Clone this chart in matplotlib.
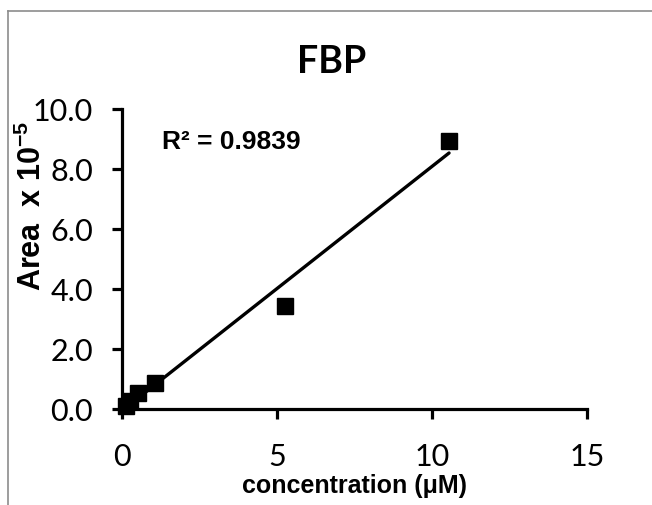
import numpy as np
import matplotlib
matplotlib.use("Agg")
import matplotlib.pyplot as plt
from matplotlib.lines import Line2D

plt.rcParams['mathtext.fontset'] = 'custom'
plt.rcParams['mathtext.bf'] = 'Liberation Sans:bold'
plt.rcParams['mathtext.rm'] = 'Liberation Sans'

# Data
conc = [0.13, 0.26, 0.53, 1.06, 5.27, 10.55]
area = [0.10, 0.28, 0.55, 0.88, 3.42, 8.92]
x_ticks = [0, 5, 10, 15]
y_ticks = [0, 2, 4, 6, 8, 10]
title = "FBP"
r2_text = "R² = 0.9839"

W, H = 652, 506
fig = plt.figure(figsize=(W / 100, H / 100), dpi=100)
fig.patch.set_facecolor('white')

# outer chart border
fig.add_artist(Line2D([8 / W, 8 / W], [0, 1 - 12 / H], color='#8c8c8c', lw=1.2))
fig.add_artist(Line2D([8 / W, 1], [1 - 12 / H, 1 - 12 / H], color='#8c8c8c', lw=1.2))

ax = fig.add_axes([122 / W, 1 - 410 / H, (587 - 122) / W, 300 / H])
ax.set_xlim(0, 15)
ax.set_ylim(0, 10)

x = np.array(conc)
y = np.array(area)
slope, intercept = np.polyfit(x, y, 1)
xl = np.array([x.min(), x.max()])
ax.plot(xl, slope * xl + intercept, color='black', lw=2.4, solid_capstyle='round', zorder=2)
ax.plot(x, y, 's', color='black', markersize=12, zorder=3, clip_on=False)

for s in ['top', 'right']:
    ax.spines[s].set_visible(False)
for s in ['left', 'bottom']:
    ax.spines[s].set_linewidth(2.3)

ax.set_xticks(x_ticks)
ax.set_yticks(y_ticks)
ax.set_yticklabels([f"{v:.1f}" for v in y_ticks])
ax.tick_params(axis='both', direction='out', length=7, width=2.3, labelsize=22)
ax.tick_params(axis='y', pad=14)
ax.tick_params(axis='x', pad=17)
for lab in ax.get_xticklabels() + ax.get_yticklabels():
    lab.set_fontfamily('Lato')

fig.text(354 / W, 1 - 486 / H, "concentration (μM)", fontsize=18, fontweight='bold',
         fontfamily='Liberation Sans', ha='center', va='center')

fig.text(332 / W, 1 - 62 / H, title, fontsize=27, fontweight='bold', fontfamily='Lato',
         ha='center', va='center')
fig.text(162 / W, 1 - 142 / H, r2_text, fontsize=19, fontweight='bold',
         fontfamily='Liberation Sans', ha='left', va='center')
fig.text(32 / W, 1 - 206 / H, r"Area  x 10$^{\mathbf{-5}}$", fontsize=22, fontweight='bold',
         fontfamily='Liberation Sans', rotation=90, ha='center', va='center')

fig.savefig("out.png", dpi=100, facecolor='white')
